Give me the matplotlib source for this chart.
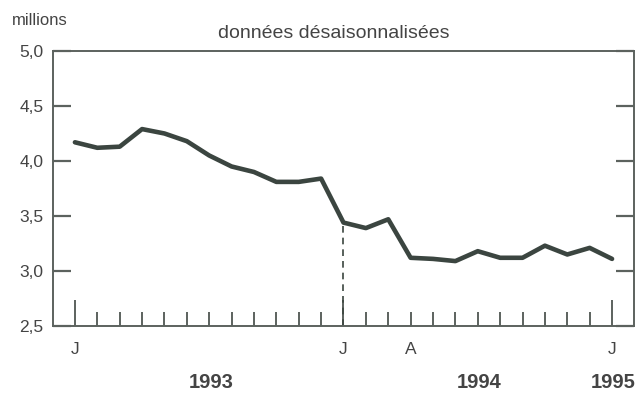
import matplotlib.pyplot as plt
import matplotlib.ticker as mticker
import numpy as np

# monthly values, Jan 1993 .. Jan 1995 (millions, seasonally adjusted)
months = np.arange(25)
values = [4.17, 4.12, 4.13, 4.29, 4.25, 4.18, 4.05, 3.95, 3.90, 3.81, 3.81, 3.84,
          3.44, 3.39, 3.47, 3.12, 3.11, 3.09, 3.18, 3.12, 3.12, 3.23, 3.15, 3.21, 3.11]
month_labels = ['J', 'J', 'A', 'J']
month_label_pos = [0, 12, 15, 24]
years = ['1993', '1994', '1995']
year_pos = [6.1, 18.05, 24.05]
break_month = 12

plt.rcParams['font.family'] = ['Liberation Sans', 'DejaVu Sans']
text_col = '#444444'
line_col = '#3b4540'
frame_col = '#5c625e'

fig = plt.figure(figsize=(6.4, 4.03), dpi=100)
ax = fig.add_axes([0.0828, 0.1911, 0.9078, 0.6824])

ax.plot(months, values, color=line_col, lw=3.3, solid_joinstyle='round', solid_capstyle='round')
ax.plot([break_month, break_month], [2.5, values[break_month]], color=line_col,
        lw=1.2, dashes=(4, 3))

ax.set_xlim(-0.98, 24.98)
ax.set_ylim(2.5, 5.0)

for s in ax.spines.values():
    s.set_color(frame_col)
    s.set_linewidth(1.4)

ax.set_yticks([2.5, 3.0, 3.5, 4.0, 4.5, 5.0])
ax.yaxis.set_major_formatter(mticker.FuncFormatter(lambda v, p: f'{v:.1f}'.replace('.', ',')))
ax.tick_params(axis='y', direction='in', length=13, width=1.6, color=frame_col,
               left=True, right=True, labelsize=12.5, labelcolor=text_col, pad=7)

ax.set_xticks([0, 12, 24])
ax.set_xticks(months, minor=True)
ax.tick_params(axis='x', which='major', direction='in', length=19, width=1.4, color=frame_col,
               labelbottom=False)
ax.tick_params(axis='x', which='minor', direction='in', length=10, width=1.4, color=frame_col)

trans = ax.get_xaxis_transform()
for lab, pos in zip(month_labels, month_label_pos):
    ax.text(pos, -0.085, lab, transform=trans, ha='center', va='center',
            fontsize=12.5, color=text_col)
for lab, pos in zip(years, year_pos):
    ax.text(pos, -0.205, lab, transform=trans, ha='center', va='center',
            fontsize=14.5, fontweight='bold', color=text_col)

fig.text(0.019, 0.950, 'millions', ha='left', va='center', fontsize=12, color=text_col)
fig.text(0.522, 0.918, 'données désaisonnalisées', ha='center', va='center',
         fontsize=14, color=text_col)

fig.savefig('out.png', dpi=100)
